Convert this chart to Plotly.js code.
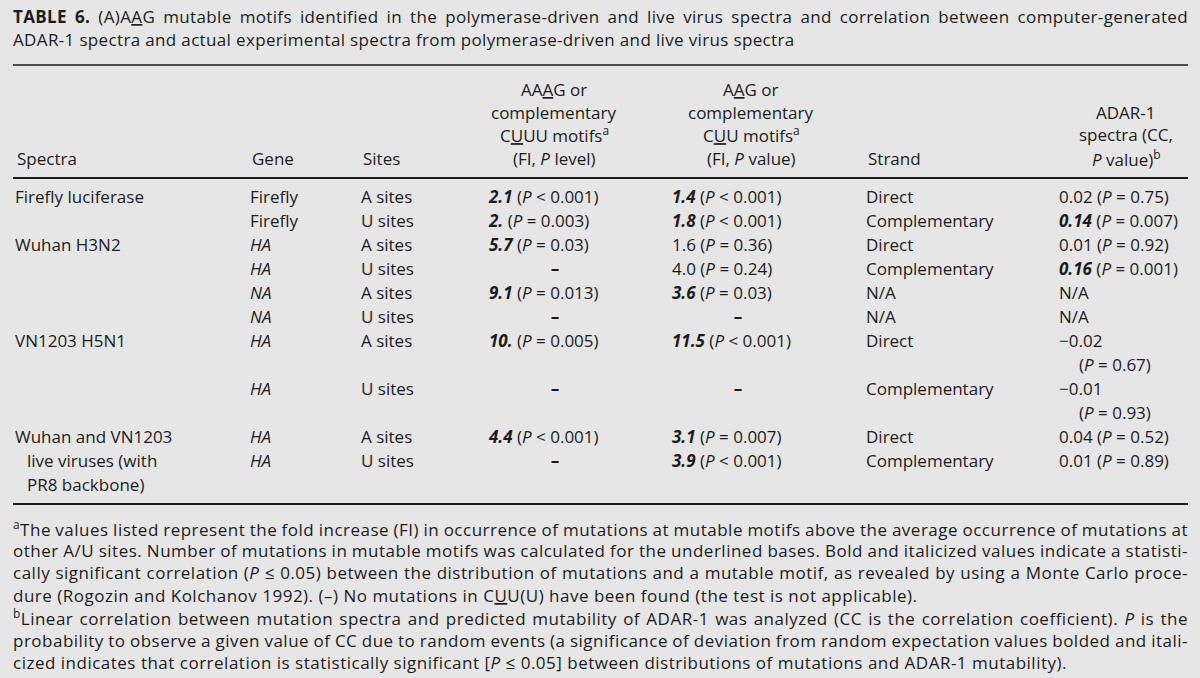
<!DOCTYPE html>
<html>
<head>
<meta charset="utf-8">
<script src="https://cdn.plot.ly/plotly-3.0.1.min.js"></script>
<style>
  html, body { margin: 0; padding: 0; background: #e6e6e6; }
  #table6 { width: 1200px; height: 678px; }
</style>
</head>
<body>
<div id="table6"></div>
<script>
// Table 6 rows
var spectra = ['Firefly luciferase', '', 'Wuhan H3N2', '', '', '', 'VN1203 H5N1', '', 'Wuhan and VN1203<br>live viruses (with<br>PR8 backbone)', ''];
var genes = ['Firefly', 'Firefly', 'HA', 'HA', 'NA', 'NA', 'HA', 'HA', 'HA', 'HA'];
var sites = ['A sites', 'U sites', 'A sites', 'U sites', 'A sites', 'U sites', 'A sites', 'U sites', 'A sites', 'U sites'];
var aaagFI = ['2.1', '2.', '5.7', null, '9.1', null, '10.', null, '4.4', null];
var aaagP = ['< 0.001', '= 0.003', '= 0.03', null, '= 0.013', null, '= 0.005', null, '< 0.001', null];
var aaagSig = [true, true, true, false, true, false, true, false, true, false];
var aagFI = ['1.4', '1.8', '1.6', '4.0', '3.6', null, '11.5', null, '3.1', '3.9'];
var aagP = ['< 0.001', '< 0.001', '= 0.36', '= 0.24', '= 0.03', null, '< 0.001', null, '= 0.007', '< 0.001'];
var aagSig = [true, true, false, false, true, false, true, false, true, true];
var strand = ['Direct', 'Complementary', 'Direct', 'Complementary', 'N/A', 'N/A', 'Direct', 'Complementary', 'Direct', 'Complementary'];
var adarCC = ['0.02', '0.14', '0.01', '0.16', null, null, '\u22120.02', '\u22120.01', '0.04', '0.01'];
var adarP = ['= 0.75', '= 0.007', '= 0.92', '= 0.001', null, null, '= 0.67', '= 0.93', '= 0.52', '= 0.89'];
var adarSig = [false, true, false, true, false, false, false, false, false, false];

var FONT = '"Open Sans", Lato, sans-serif';
var INK = '#1c1c1c';
var SIZE = 17;

// each row takes one line, two when the ADAR-1 cell wraps (negative CC)
var rowLine = [];
var line = 0;
for (var i = 0; i < genes.length; i++) {
  rowLine.push(line);
  line += (adarCC[i] && adarCC[i].charAt(0) === '\u2212') ? 2 : 1;
}

function pText(p) {
  return '(<i>P</i> ' + p + ')';
}
function valText(v, p, sig) {
  return (sig ? '<b><i>' + v + '</i></b>' : v) + ' ' + pText(p);
}

function textTrace(xs, ys, texts, pos) {
  return {
    type: 'scatter', mode: 'text', x: xs, y: ys, text: texts,
    textposition: pos || 'middle right',
    textfont: {family: FONT, size: SIZE, color: INK},
    hoverinfo: 'skip', showlegend: false, cliponaxis: false
  };
}

var traces = [];

// spectra column (wrapped labels continue on the next lines, indented)
var sx = [], sy = [], st = [], cx = [], cy = [], ct = [];
spectra.forEach(function (s, i) {
  if (!s) return;
  s.split('<br>').forEach(function (part, k) {
    if (k === 0) { sx.push(15); sy.push(rowLine[i]); st.push(part); }
    else { cx.push(27); cy.push(rowLine[i] + k); ct.push(part); }
  });
});
traces.push(textTrace(sx, sy, st));
traces.push(textTrace(cx, cy, ct));

// gene and sites
traces.push(textTrace(genes.map(function () { return 250; }), rowLine,
  genes.map(function (g) { return /^[A-Z]+$/.test(g) ? '<i>' + g + '</i>' : g; })));
traces.push(textTrace(sites.map(function () { return 361; }), rowLine, sites));

// FI columns: values left aligned, dashes centred
function fiColumn(fi, p, sig, left, centre) {
  var vx = [], vy = [], vt = [], dx = [], dy = [], dt = [];
  fi.forEach(function (v, i) {
    if (v === null) { dx.push(centre); dy.push(rowLine[i]); dt.push('<b>\u2013</b>'); }
    else { vx.push(left); vy.push(rowLine[i]); vt.push(valText(v, p[i], sig[i])); }
  });
  traces.push(textTrace(vx, vy, vt));
  traces.push(textTrace(dx, dy, dt, 'middle center'));
}
fiColumn(aaagFI, aaagP, aaagSig, 489, 555);
fiColumn(aagFI, aagP, aagSig, 672, 738);

traces.push(textTrace(strand.map(function () { return 866; }), rowLine, strand));

// ADAR-1 column
var ax = [], ay = [], at = [];
adarCC.forEach(function (cc, i) {
  if (cc === null) { ax.push(1059); ay.push(rowLine[i]); at.push('N/A'); return; }
  var v = adarSig[i] ? '<b><i>' + cc + '</i></b>' : cc;
  if (cc.charAt(0) === '\u2212') {
    ax.push(1059); ay.push(rowLine[i]); at.push(v);
    ax.push(1079); ay.push(rowLine[i] + 1); at.push(pText(adarP[i]));
  } else {
    ax.push(1059); ay.push(rowLine[i]); at.push(v + ' ' + pText(adarP[i]));
  }
});
traces.push(textTrace(ax, ay, at));

// header, caption and footnotes
var W = 1200, H = 678, RIGHT = 1188;
var annotations = [];
var blocks = [];
function note(text, x, y, anchor, size) {
  annotations.push({
    text: text, xref: 'paper', yref: 'paper', x: x / W, y: 1 - y / H,
    xanchor: anchor || 'left', yanchor: 'middle', showarrow: false,
    font: {family: FONT, size: size || SIZE, color: INK}
  });
}
// long caption / footnote lines get set flush left (and justified) after drawing
function para(text, left, y, just, ls) {
  note(text, left, y);
  blocks.push({k: annotations.length - 1, left: left, just: just, ls: ls});
}

para('<b>TABLE 6.</b> (A)A<u>A</u>G mutable motifs identified in the polymerase-driven and live virus spectra and correlation between computer-generated', 13, 17, true, 0.35);
para('ADAR-1 spectra and actual experimental spectra from polymerase-driven and live virus spectra', 13, 40, false, 0.35);

var hdr = [89, 112, 135, 158];
note('Spectra', 15, hdr[3]);
note('Gene', 250, hdr[3]);
note('Sites', 361, hdr[3]);
['AA<u>A</u>G or', 'complementary', 'C<u>U</u>UU motifs<sup>a</sup>', '(FI, <i>P</i> level)'].forEach(function (t, k) {
  note(t, 554, hdr[k], 'center');
});
['A<u>A</u>G or', 'complementary', 'C<u>U</u>U motifs<sup>a</sup>', '(FI, <i>P</i> value)'].forEach(function (t, k) {
  note(t, 751, hdr[k], 'center');
});
note('Strand', 866, hdr[3]);
['ADAR-1', 'spectra (CC,', '<i>P</i> value)<sup>b</sup>'].forEach(function (t, k) {
  note(t, 1126, hdr[k + 1], 'center');
});

var foot = [
  '<sup>a</sup>The values listed represent the fold increase (FI) in occurrence of mutations at mutable motifs above the average occurrence of mutations at',
  'other A/U sites. Number of mutations in mutable motifs was calculated for the underlined bases. Bold and italicized values indicate a statisti-',
  'cally significant correlation (<i>P</i> \u2264 0.05) between the distribution of mutations and a mutable motif, as revealed by using a Monte Carlo proce-',
  'dure (Rogozin and Kolchanov 1992). (\u2013) No mutations in C<u>U</u>U(U) have been found (the test is not applicable).',
  '<sup>b</sup>Linear correlation between mutation spectra and predicted mutability of ADAR-1 was analyzed (CC is the correlation coefficient). <i>P</i> is the',
  'probability to observe a given value of CC due to random events (a significance of deviation from random expectation values bolded and itali-',
  'cized indicates that correlation is statistically significant [<i>P</i> \u2264 0.05] between distributions of mutations and ADAR-1 mutability).'
];
var footJust = [true, true, true, false, true, true, false];
foot.forEach(function (t, k) { para(t, 13, 528 + k * 22.4, footJust[k], 0.5); });

var rule = function (y, w) {
  return {type: 'line', xref: 'paper', yref: 'paper', x0: 13 / W, x1: RIGHT / W,
    y0: 1 - y / H, y1: 1 - y / H, line: {color: INK, width: w}};
};

var layout = {
  width: W, height: H,
  margin: {l: 0, r: 0, t: 0, b: 0},
  paper_bgcolor: '#e6e6e6', plot_bgcolor: '#e6e6e6',
  xaxis: {range: [0, W], visible: false, fixedrange: true},
  yaxis: {range: [(H - 199) / 24, -199 / 24], visible: false, fixedrange: true},
  shapes: [rule(65, 1.5), rule(178, 2), rule(504, 2)],
  annotations: annotations
};

Plotly.newPlot('table6', traces, layout, {displayModeBar: false, staticPlot: true}).then(function (gd) {
  var groups = gd.querySelectorAll('g.annotation');
  blocks.forEach(function (b) {
    var t = groups[b.k] && groups[b.k].querySelector('text.annotation-text');
    if (!t) return;
    t.style.letterSpacing = b.ls + 'px';
    if (b.just) {
      var spaces = (t.textContent.match(/ /g) || []).length;
      var w = t.getBoundingClientRect().width;
      if (spaces) t.style.wordSpacing = ((RIGHT - b.left - w) / spaces) + 'px';
    }
    var box = t.getBoundingClientRect();
    t.setAttribute('x', (parseFloat(t.getAttribute('x')) || 0) + (b.left - box.left));
  });
});
</script>
</body>
</html>
